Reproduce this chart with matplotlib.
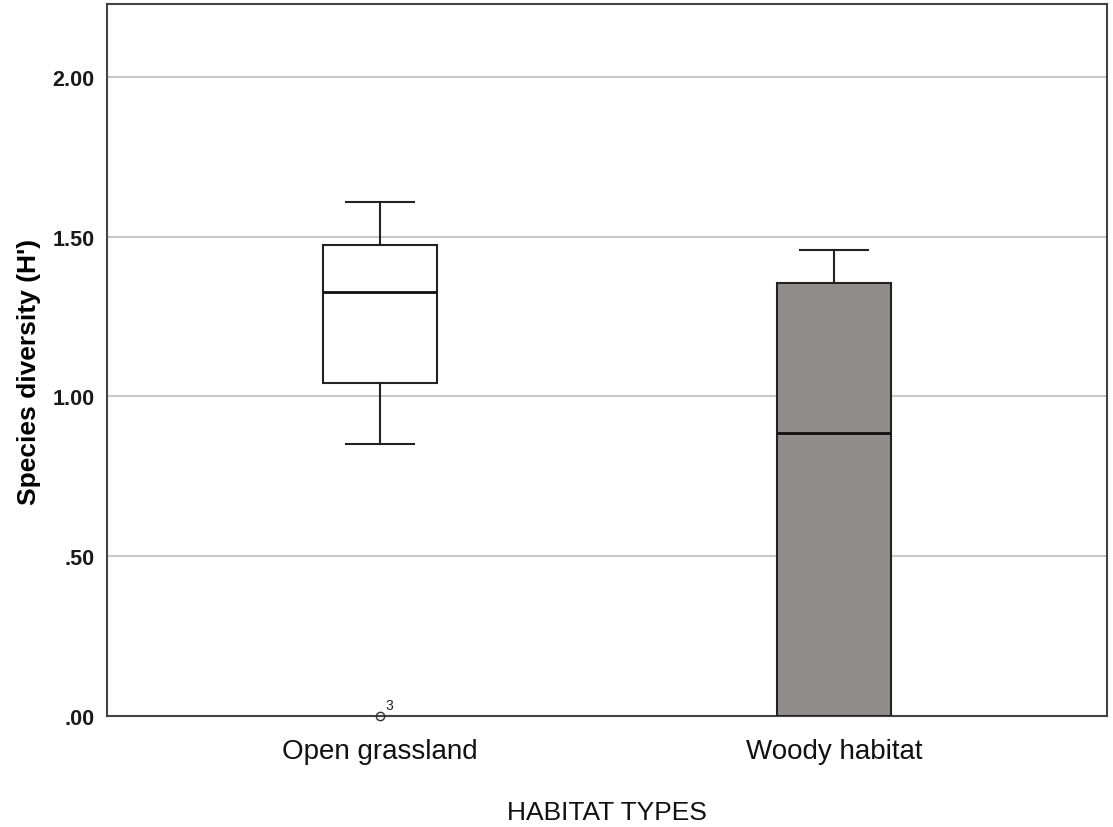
import matplotlib
matplotlib.use("Agg")

import matplotlib.pyplot as plt

categories = ["Open grassland", "Woody habitat"]
whisker_low = [0.851, 0.0]
q1 = [1.042, 0.0]
median = [1.327, 0.886]
q3 = [1.474, 1.355]
whisker_high = [1.609, 1.459]
outliers = [[0.0], []]
outlier_labels = [["3"], []]
box_colors = ["white", "#918d8c"]
y_ticks = [0.0, 0.5, 1.0, 1.5, 2.0]
y_tick_labels = [".00", ".50", "1.00", "1.50", "2.00"]

arial = ["Liberation Sans", "DejaVu Sans"]

fig = plt.figure(figsize=(11.13, 8.28), dpi=100)
ax = fig.add_axes([0.0961, 0.134, 0.8985, 0.860])

stats = []
for i, name in enumerate(categories):
    stats.append({
        "label": name,
        "whislo": whisker_low[i],
        "q1": q1[i],
        "med": median[i],
        "q3": q3[i],
        "whishi": whisker_high[i],
        "fliers": [],
    })

positions = list(range(1, len(categories) + 1))
bp = ax.bxp(
    stats,
    positions=positions,
    widths=0.25,
    patch_artist=True,
    showfliers=False,
    boxprops=dict(edgecolor="#222222", linewidth=1.5),
    medianprops=dict(color="#111111", linewidth=2),
    whiskerprops=dict(color="#222222", linewidth=1.5),
    capprops=dict(color="#222222", linewidth=1.5),
    capwidths=0.15,
    zorder=3,
)
for patch, c in zip(bp["boxes"], box_colors):
    patch.set_facecolor(c)

for pos, vals, labs in zip(positions, outliers, outlier_labels):
    for v, lab in zip(vals, labs):
        ax.plot(pos, v, marker="o", markersize=6, markerfacecolor="none",
                markeredgecolor="#333333", markeredgewidth=1, zorder=4,
                clip_on=False)
        ax.annotate(lab, (pos, v), xytext=(4, 5), textcoords="offset points",
                    fontsize=10, family=arial, color="#222222")

ax.set_xlim(0.4, 2.6)
ax.set_ylim(0, 2.228)
ax.set_yticks(y_ticks)
ax.set_yticklabels(y_tick_labels, family=arial, fontsize=15.5,
                   fontweight="bold", color="#1a1a1a")
ax.set_xticks(positions)
ax.set_xticklabels(categories, family=arial, fontsize=20, color="#111111")
ax.tick_params(axis="x", length=0, pad=16)
ax.tick_params(axis="y", length=0, pad=9)

ax.yaxis.grid(True, color="#c8c8c8", linewidth=1.5, zorder=0)
ax.set_axisbelow(True)
for side in ax.spines.values():
    side.set_color("#444444")
    side.set_linewidth(1.5)

ax.set_ylabel("Species diversity (H')", family=arial, fontsize=19,
              fontweight="bold")
ax.yaxis.set_label_coords(-0.066, 0.485)
ax.set_xlabel("HABITAT TYPES", family=arial, fontsize=19, labelpad=26,
              color="#111111")

fig.savefig("out.png", dpi=100)
